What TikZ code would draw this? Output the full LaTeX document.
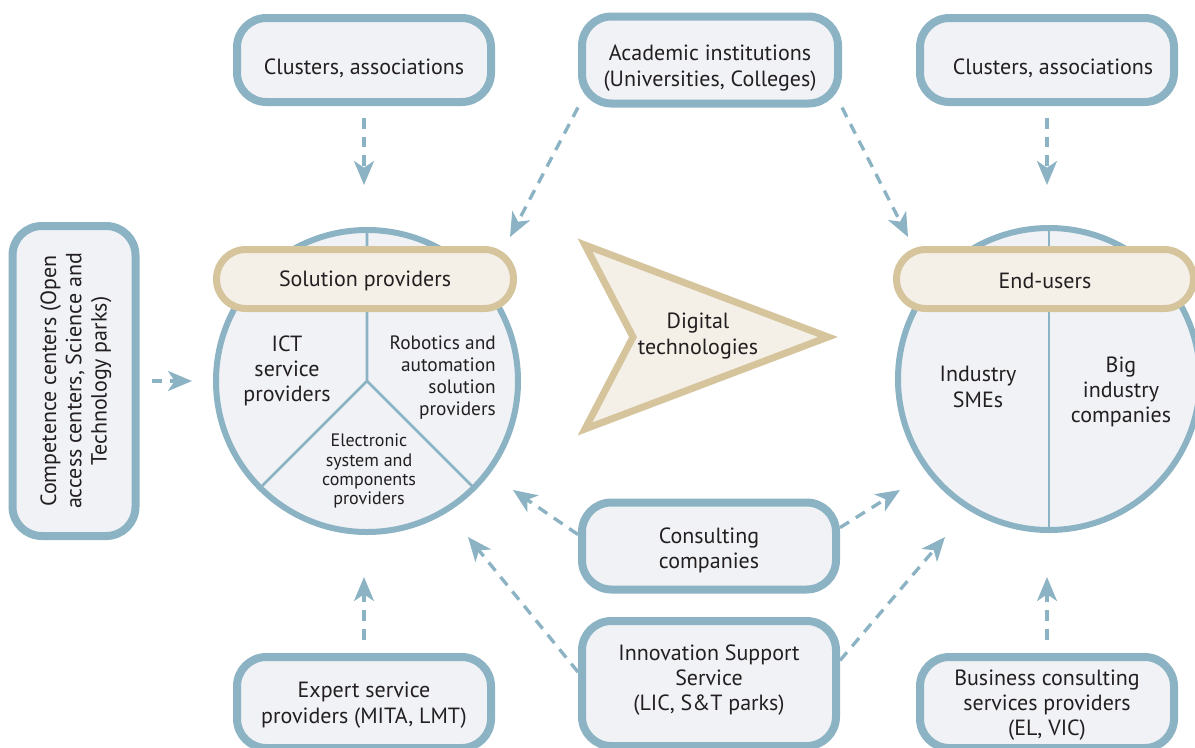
\documentclass[tikz,border=0pt]{standalone}
\usepackage{fontspec}
\setmainfont{PT Sans}
\usetikzlibrary{arrows.meta}
\definecolor{bl}{HTML}{8BB3C4}
\definecolor{boxfill}{HTML}{F0F2F6}
\definecolor{bg}{HTML}{D5C49C}
\definecolor{bgfill}{HTML}{F4F0E8}
\definecolor{txt}{HTML}{231F20}
\tikzset{
  box/.style={draw=bl, line width=6pt, fill=boxfill, rounded corners=22pt, inner sep=0pt},
  pill/.style={draw=bg, line width=5.25pt, fill=bgfill, rounded corners=22pt, inner sep=0pt,
    minimum width=222.75pt, minimum height=44.25pt},
  lbl/.style={align=center, font=\fontsize{16.5}{19}\selectfont, text=txt, inner sep=0pt},
  conn/.style={draw=bl, line width=2.5pt, dash pattern=on 8pt off 6pt,
    -{Stealth[length=18pt,width=15pt,inset=5pt]}},
  circ/.style={draw=bl, line width=4.5pt},
  divl/.style={draw=bl, line width=2pt}
}
\begin{document}
\begin{tikzpicture}[x=0.75pt,y=-0.75pt]
\useasboundingbox (0,0) rectangle (1195,747);
\clip (0,0) rectangle (1195,747);

% circles
\fill[boxfill] (367,381) circle[radius=151];
\draw[divl] (367,228) -- (367,381) -- (260,488);
\draw[divl] (367,381) -- (474,488);
\draw[circ] (367,381) circle[radius=151];

\fill[boxfill] (1049,379) circle[radius=151];
\draw[divl] (1049,228) -- (1049,530);
\draw[circ] (1049,379) circle[radius=151];

% pills
\node[pill] (sol) at (365,279) {};
\node[lbl] (solt) at (365,281) {Solution providers};
\node[pill] (end) at (1045,279) {};
\node[lbl] (endt) at (1045,281) {End-users};

% circle texts
\node[lbl] (ict) at (287,371) {ICT\\service\\providers};
\node[lbl, align=right, anchor=east, font=\fontsize{14.5}{16.5}\selectfont] (rob) at (496,378) {Robotics and\\automation\\solution\\providers};
\node[lbl, font=\fontsize{13.5}{14.3}\selectfont] (ele) at (369,471) {Electronic\\system and\\components\\providers};
\node[lbl] (sme) at (978,387) {Industry\\SMEs};
\node[lbl] (big) at (1121,392) {Big\\industry\\companies};

% digital technologies arrow
\draw[draw=bg, fill=bgfill, line width=5.25pt, line join=miter]
  (585,245) -- (828,337) -- (585,429) -- (633,337) -- cycle;
\node[lbl] (dig) at (698,336) {Digital\\technologies};

% boxes
\node[box, minimum width=190.5pt, minimum height=63pt] (clL) at (364,60) {};
\node[lbl] (clLt) at (364,68) {Clusters, associations};
\node[box, minimum width=192pt, minimum height=65.25pt] (acad) at (710,60) {};
\node[lbl] (acadt) at (710,68) {Academic institutions\\(Universities, Colleges)};
\node[box, minimum width=190.5pt, minimum height=63pt] (clR) at (1047,60) {};
\node[lbl] (clRt) at (1053,68) {Clusters, associations};
\node[box, minimum width=123*0.75pt, minimum height=310*0.75pt] (comp) at (74,381) {};
\node[lbl, rotate=90] (compt) at (76,381) {Competence centers (Open\\access centers, Science and\\Technology parks)};
\node[box, minimum width=190.5pt, minimum height=65.25pt] (cons) at (709,546) {};
\node[lbl] (const) at (709,550.5) {Consulting\\companies};
\node[box, minimum width=190.5pt, minimum height=93.75pt] (innov) at (709,683.5) {};
\node[lbl] (innovt) at (709,680) {Innovation Support\\Service\\(LIC, S\&T parks)};
\node[box, minimum width=190.5pt, minimum height=68.25pt] (exp) at (364,702.5) {};
\node[lbl] (expt) at (364,705) {Expert service\\providers (MITA, LMT)};
\node[box, minimum width=190.5pt, minimum height=68.25pt] (bus) at (1047,702.5) {};
\node[lbl] (bust) at (1047,705) {Business consulting\\services providers\\(EL, VIC)};

% arrow tips
\coordinate (tClL) at (364,185);
\coordinate (tClR) at (1047,185);
\coordinate (tAcL) at (510,237);
\coordinate (tAcR) at (908,237);
\coordinate (tComp) at (192,381);
\coordinate (tConsL) at (513,490);
\coordinate (tConsR) at (900,490);
\coordinate (tInL) at (468,537);
\coordinate (tInR) at (945,537);
\coordinate (tExp) at (364,577);
\coordinate (tBus) at (1047,577);

% connectors
\draw[conn, shorten <=9pt] (clL) -- (tClL);
\draw[conn, shorten <=9pt] (clR) -- (tClR);
\draw[conn] (acad.south west) -- (tAcL);
\draw[conn] (acad.south east) -- (tAcR);
\draw[conn, shorten <=9pt] (comp.east) -- (tComp);
\draw[conn] (cons.175) -- (tConsL);
\draw[conn] (cons.8) -- (tConsR);
\draw[conn] (innov.175) -- (tInL);
\draw[conn] (innov.10) -- (tInR);
\draw[conn, shorten <=10pt] (exp.north) -- (tExp);
\draw[conn, shorten <=10pt] (bus.north) -- (tBus);
\end{tikzpicture}
\end{document}
